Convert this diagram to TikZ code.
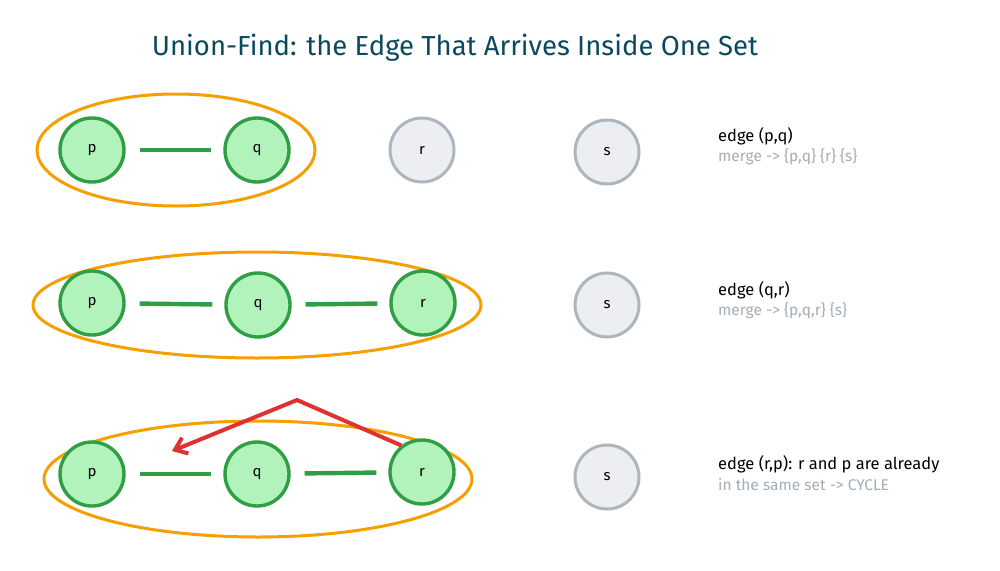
\documentclass[tikz,border=0pt]{standalone}
\usepackage{fontspec}
\setmainfont{Fira Sans}
\usetikzlibrary{arrows.meta}
\definecolor{gfill}{HTML}{B2F2BB}
\definecolor{gline}{HTML}{2F9E44}
\definecolor{sfill}{HTML}{ECEEF1}
\definecolor{sline}{HTML}{ADB5BD}
\definecolor{setc}{HTML}{F59F00}
\definecolor{redc}{HTML}{E03131}
\definecolor{titlec}{HTML}{0B4A5E}
\definecolor{notec}{HTML}{A5ADB8}
\tikzset{
  inset/.style={circle,draw=gline,fill=gfill,line width=3.4pt,minimum size=64pt,inner sep=0pt,font=\fontsize{15}{17}\selectfont},
  outset/.style={circle,draw=sline,fill=sfill,line width=3pt,minimum size=64pt,inner sep=0pt,font=\fontsize{15}{17}\selectfont},
  link/.style={draw=gline,line width=4.4pt,shorten <=14pt,shorten >=12pt},
  setring/.style={draw=setc,line width=3pt},
  stepnote/.style={anchor=west,inner sep=0pt,font=\fontsize{16.5}{19}\selectfont},
  subnote/.style={anchor=west,inner sep=0pt,text=notec,font=\fontsize{15.5}{18}\selectfont},
  cyclearrow/.style={draw=redc,line width=4pt,line join=round,-{Straight Barb[length=11pt,width=17pt,line width=4pt]}}
}
\begin{document}
\begin{tikzpicture}[x=1pt,y=-1pt]
\useasboundingbox (0,0) rectangle (1000,570);
\fill[white] (0,0) rectangle (1000,570);
\node[text=titlec,font=\fontsize{27.5}{32}\selectfont] (title) at (455,48) {Union-Find: the Edge That Arrives Inside One Set};

% row 1
\draw[setring] (176,150) ellipse [x radius=139, y radius=56];
\node[inset] (p1) at (92,150) {p};
\node[inset] (q1) at (257,150) {q};
\node[outset] (r1) at (422,150) {r};
\node[outset] (s1) at (607,152) {s};
\draw[link] (p1) -- (q1);
\node[stepnote] (n1a) at (718,136) {edge (p,q)};
\node[subnote] (n1b) at (718,157) {merge -> \{p,q\} \{r\} \{s\}};

% row 2
\draw[setring] (257,305) ellipse [x radius=224, y radius=53];
\node[inset] (p2) at (92,303) {p};
\node[inset] (q2) at (258,305) {q};
\node[inset] (r2) at (423,303) {r};
\node[outset] (s2) at (607,305) {s};
\draw[link] (p2) -- (q2);
\draw[link] (q2) -- (r2);
\node[stepnote] (n2a) at (718,290) {edge (q,r)};
\node[subnote] (n2b) at (718,311) {merge -> \{p,q,r\} \{s\}};

% row 3
\draw[setring] (258,479) ellipse [x radius=214, y radius=58];
\node[inset] (p3) at (92,474) {p};
\node[inset] (q3) at (257,474) {q};
\node[inset] (r3) at (422,472) {r};
\node[outset] (s3) at (607,477) {s};
\draw[link] (p3) -- (q3);
\draw[link] (q3) -- (r3);
\coordinate (apex) at (297,400);
\coordinate (tip) at (172,451);
\draw[cyclearrow] (r3.128) -- (apex) -- (tip);
\node[stepnote] (n3a) at (718,464) {edge (r,p): r and p are already};
\node[subnote] (n3b) at (718,485) {in the same set -> CYCLE};
\end{tikzpicture}
\end{document}
